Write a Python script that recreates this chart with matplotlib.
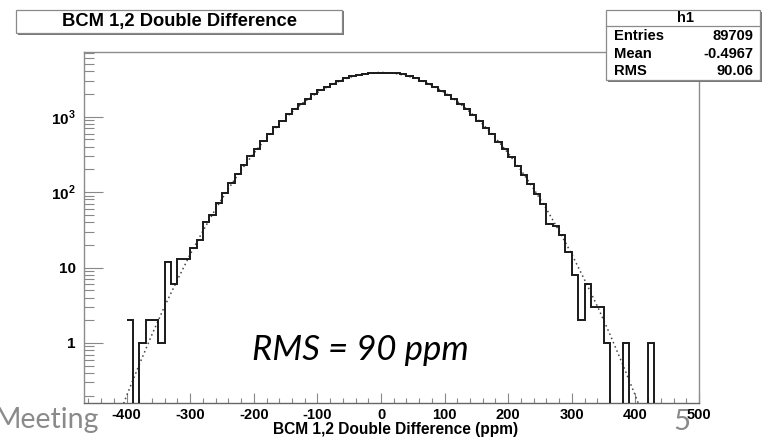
import matplotlib
matplotlib.use('Agg')
import matplotlib.pyplot as plt
import numpy as np
from matplotlib.patches import Rectangle
from matplotlib.lines import Line2D
from matplotlib.ticker import FixedLocator, FixedFormatter

plt.rcParams['font.family'] = ['Liberation Sans', 'DejaVu Sans']
plt.rcParams['mathtext.fontset'] = 'custom'
plt.rcParams['mathtext.rm'] = 'Liberation Sans:bold'
plt.rcParams['mathtext.bf'] = 'Liberation Sans:bold'

# histogram: 10 ppm bins starting at -400
bin_lo = -400
bin_width = 10
counts = [
    2, 0, 1, 2, 2, 1, 12, 6, 13, 13,
    18, 23, 40, 50, 72, 98, 133, 176, 228, 300,
    378, 480, 600, 735, 890, 1080, 1280, 1500, 1730, 1990,
    2240, 2510, 2760, 3000, 3240, 3430, 3600, 3720, 3810, 3830,
    3840, 3830, 3860, 3700, 3480, 3250, 3010, 2750, 2480, 2220,
    1960, 1710, 1480, 1250, 1060, 880, 720, 590, 465, 370,
    290, 222, 170, 128, 95, 70, 38, 36, 27, 16,
    8, 2, 6, 3, 3, 1, 0, 0, 1, 0,
    0, 0, 1, 0,
]

# gaussian fit curve
fit_x = [-420, -400, -380, -360, -340, -320, -300, -280, -260, -240, -220,
         -200, -180, -160, -140, -120, -100, -80, -60, -40, -20, 0,
         20, 40, 60, 80, 100, 120, 140, 160, 180, 200,
         220, 240, 260, 280, 300, 320, 340, 360, 380, 400, 420]
fit_y = [0.072, 0.2, 0.52, 1.3, 3.1, 6.9, 15, 30.6, 60, 111, 196,
         329, 525, 800, 1157, 1595, 2093, 2614, 3107, 3515, 3785, 3880,
         3785, 3515, 3107, 2614, 2093, 1595, 1157, 800, 525, 329,
         196, 111, 60, 30.6, 15, 6.9, 3.1, 1.3, 0.52, 0.2, 0.072]

stats_rows = [('Entries', '89709'), ('Mean', '-0.4967'), ('RMS', '90.06')]
title = 'BCM 1,2 Double Difference'
xlabel = 'BCM 1,2 Double Difference (ppm)'

W, H = 773, 441
fig = plt.figure(figsize=(W / 100, H / 100), dpi=100)
fig.patch.set_facecolor('white')


def fx(x):
    return x / W


def fy(y):
    return 1 - y / H


ax = fig.add_axes([fx(84), fy(403), (699 - 84) / W, (403 - 52) / H])

edges = bin_lo + bin_width * np.arange(len(counts) + 1)
vals = np.array(counts, dtype=float)
vals = np.where(vals > 0, vals, 1e-3)
ax.stairs(vals, edges, baseline=None, color='#1a1a1a', linewidth=1.4, zorder=3)
ax.plot(fit_x, fit_y, linestyle=(0, (1, 2)), color='#444444', linewidth=1.1, zorder=2)

ax.set_yscale('log')
ax.set_xlim(-467, 500)
ax.set_ylim(0.16, 7230)

ax.xaxis.set_major_locator(FixedLocator([-400, -300, -200, -100, 0, 100, 200, 300, 400, 500]))
ax.xaxis.set_minor_locator(FixedLocator([v for v in range(-460, 500, 20) if v % 100 != 0]))
ax.set_xticklabels(['-400', '-300', '-200', '-100', '0', '100', '200', '300', '400', '500'],
                   fontsize=10.5, fontweight='bold')

ax.yaxis.set_major_locator(FixedLocator([1, 10, 100, 1000]))
ax.yaxis.set_major_formatter(FixedFormatter(['1', '10', r'$10^{2}$', r'$10^{3}$']))
minors = []
for dec in [0.1, 1, 10, 100, 1000]:
    for k in range(2, 10):
        if 0.16 <= k * dec <= 7230:
            minors.append(k * dec)
ax.yaxis.set_minor_locator(FixedLocator(minors))
ax.yaxis.set_minor_formatter(FixedFormatter([''] * len(minors)))
for lab in ax.get_yticklabels():
    lab.set_fontweight('bold')
    lab.set_fontsize(11)

tick_col = '#888888'
ax.tick_params(axis='x', which='major', direction='in', length=7.2, width=0.8,
               color=tick_col, pad=3.5, labelcolor='black')
ax.tick_params(axis='x', which='minor', direction='in', length=3.6, width=0.8, color=tick_col)
ax.tick_params(axis='y', which='major', direction='in', length=13.7, width=0.8,
               color=tick_col, pad=6, labelcolor='black')
ax.tick_params(axis='y', which='minor', direction='in', length=7.2, width=0.8, color=tick_col)
for s in ax.spines.values():
    s.set_color('#8c8c8c')
    s.set_linewidth(1.0)
ax.spines['bottom'].set_color('#666666')

fig.text(fx(396), fy(434), xlabel, ha='center', va='baseline',
         fontsize=11.2, fontweight='bold')

# title box
fig.add_artist(Rectangle((fx(17.5), fy(34.5)), (342 - 16) / W, (33 - 10) / H,
                         transform=fig.transFigure, facecolor='#777777', edgecolor='none', zorder=4))
fig.add_artist(Rectangle((fx(16), fy(33)), (342 - 16) / W, (33 - 10) / H,
                         transform=fig.transFigure, facecolor='white', edgecolor='#8a8a8a',
                         linewidth=0.9, zorder=5))
fig.text(fx(179), fy(21.5), title, ha='center', va='center', fontsize=13.2,
         fontweight='bold', zorder=6)

# stats box
fig.add_artist(Rectangle((fx(607.5), fy(81.5)), (760 - 606) / W, (80 - 10) / H,
                         transform=fig.transFigure, facecolor='#777777', edgecolor='none', zorder=4))
fig.add_artist(Rectangle((fx(606), fy(80)), (760 - 606) / W, (80 - 10) / H,
                         transform=fig.transFigure, facecolor='white', edgecolor='#8a8a8a',
                         linewidth=0.9, zorder=5))
fig.add_artist(Line2D([fx(606), fx(760)], [fy(26), fy(26)], transform=fig.transFigure,
                      color='#8a8a8a', linewidth=0.9, zorder=6))
fig.text(fx(685), fy(18.5), 'h1', ha='center', va='center', fontsize=10.6,
         fontweight='bold', zorder=6)
for i, (name, val) in enumerate(stats_rows):
    yy = 36.5 + i * 17.2
    fig.text(fx(614), fy(yy), name, ha='left', va='center', fontsize=10.6,
             fontweight='bold', zorder=6)
    fig.text(fx(753), fy(yy), val, ha='right', va='center', fontsize=10.6,
             fontweight='bold', zorder=6)

# slide overlay text
fig.text(fx(252), fy(360), 'RMS = 90 ppm', ha='left', va='baseline', fontsize=25,
         style='italic', family=['Lato', 'DejaVu Sans'], zorder=7)
fig.text(fx(99), fy(428), 'Meeting', ha='right', va='baseline', fontsize=20.5,
         color='#8a8a8a', family=['Lato', 'DejaVu Sans'], zorder=7)
fig.text(fx(673), fy(430), '5', ha='left', va='baseline', fontsize=21,
         color='#8a8a8a', family=['Lato', 'DejaVu Sans'], zorder=7)

fig.savefig('out.png', dpi=100)
